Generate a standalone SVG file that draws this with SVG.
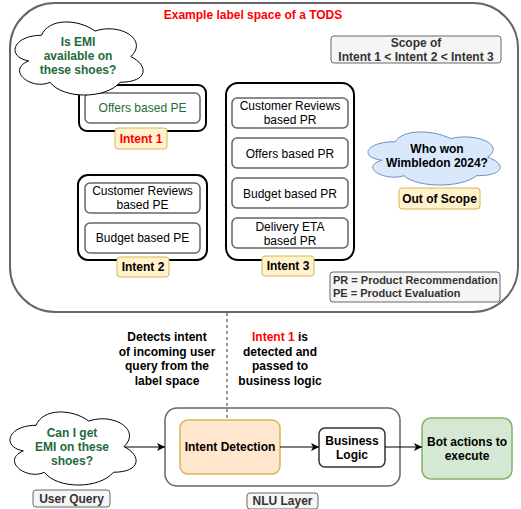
<svg xmlns="http://www.w3.org/2000/svg" width="521" height="509" viewBox="0 0 521 509">
<defs>
<style>
text{font-family:"Liberation Sans",Arial,sans-serif;font-size:12px;text-anchor:middle;fill:#000}
.b{font-weight:bold}
.g{fill:#1e6b3c}
.r{fill:#ff0000}
.d{fill:#333333}
.item{fill:#ffffff;stroke:#666666;stroke-width:1.5}
.grp{fill:#ffffff;stroke:#000000;stroke-width:2}
.tag{fill:#fff2cc;stroke:#d6b656;stroke-width:1}
.gray{fill:#f5f5f5;stroke:#666666;stroke-width:1}
.cloud{stroke-width:1;vector-effect:non-scaling-stroke}
.conn{fill:none;stroke:#000000;stroke-width:1}
</style>
<marker id="arr" markerWidth="10" markerHeight="10" refX="8" refY="4" orient="auto" markerUnits="userSpaceOnUse">
<path d="M0,0 L8,4 L0,8 L2,4 Z" fill="#000000"/>
</marker>
</defs>
<rect width="521" height="509" fill="#ffffff"/>

<g id="label-space">
<rect x="10" y="3" width="508" height="309" rx="45" fill="#ffffff" stroke="#666666" stroke-width="2"/>
<text x="253" y="19" class="b r">Example label space of a TODS</text>
</g>

<g id="intent1">
<rect class="grp" x="79" y="85" width="127" height="46" rx="8"/>
<rect class="item" x="85" y="93" width="115" height="30" rx="5"/>
<text x="142.5" y="112" class="g">Offers based PE</text>
<rect class="tag" x="115" y="128" width="52" height="21" rx="3"/>
<text x="141" y="143" class="b r">Intent 1</text>
</g>

<g id="cloud-emi">
<path class="cloud" fill="#ffffff" stroke="#000000" transform="translate(5.7,14) scale(143,85.3)" d="M0.25,0.25 C0.05,0.25 0,0.5 0.16,0.55 C0,0.66 0.18,0.9 0.31,0.8 C0.4,1 0.7,1 0.8,0.8 C1,0.8 1,0.6 0.875,0.5 C1,0.3 0.8,0.1 0.625,0.2 C0.5,0.05 0.3,0.05 0.25,0.25 Z"/>
<text x="78" y="46" class="b g">Is EMI</text>
<text x="78" y="60" class="b g">available on</text>
<text x="78" y="74" class="b g">these shoes?</text>
</g>

<g id="intent2">
<rect class="grp" x="78" y="175" width="129" height="85" rx="10"/>
<rect class="item" x="85" y="183" width="115" height="30" rx="5"/>
<text x="142.5" y="195">Customer Reviews</text>
<text x="142.5" y="209">based PE</text>
<rect class="item" x="85" y="223" width="115" height="30" rx="5"/>
<text x="142.5" y="242">Budget based PE</text>
<rect class="tag" x="117" y="257" width="52" height="20" rx="3"/>
<text x="143" y="271" class="b">Intent 2</text>
</g>

<g id="intent3">
<rect class="grp" x="226" y="83" width="128" height="177" rx="12"/>
<rect class="item" x="232" y="98" width="116" height="30" rx="5"/>
<text x="290" y="110">Customer Reviews</text>
<text x="290" y="124">based PR</text>
<rect class="item" x="232" y="138" width="116" height="30" rx="5"/>
<text x="290" y="157.5">Offers based PR</text>
<rect class="item" x="232" y="178" width="116" height="30" rx="5"/>
<text x="290" y="197.5">Budget based PR</text>
<rect class="item" x="232" y="218" width="116" height="30" rx="5"/>
<text x="290" y="231">Delivery ETA</text>
<text x="290" y="244.5">based PR</text>
<rect class="tag" x="262" y="256" width="52" height="20" rx="3"/>
<text x="288" y="270" class="b">Intent 3</text>
</g>

<g id="scope">
<rect class="gray" x="331" y="36" width="170" height="27" rx="3"/>
<text x="416" y="47" class="b d">Scope of</text>
<text x="416" y="61" class="b d">Intent 1 &lt; Intent 2 &lt; Intent 3</text>
</g>

<g id="cloud-wimbledon">
<path class="cloud" fill="#dae8fc" stroke="#6c8ebf" transform="translate(358.4,126.2) scale(147.5,61.9)" d="M0.25,0.25 C0.05,0.25 0,0.5 0.16,0.55 C0,0.66 0.18,0.9 0.31,0.8 C0.4,1 0.7,1 0.8,0.8 C1,0.8 1,0.6 0.875,0.5 C1,0.3 0.8,0.1 0.625,0.2 C0.5,0.05 0.3,0.05 0.25,0.25 Z"/>
<text x="437" y="153" class="b">Who won</text>
<text x="437" y="167" class="b">Wimbledon 2024?</text>
</g>

<g id="out-of-scope">
<rect class="tag" x="399" y="188" width="81" height="21" rx="3"/>
<text x="439.5" y="203" class="b">Out of Scope</text>
</g>

<g id="legend">
<rect class="gray" x="330" y="272" width="170" height="30" rx="3"/>
<text x="333" y="284" class="b d" style="text-anchor:start;font-size:11px">PR = Product Recommendation</text>
<text x="333" y="297" class="b d" style="text-anchor:start;font-size:11px">PE = Product Evaluation</text>
</g>

<g id="note-detects">
<text x="167" y="341" class="b">Detects intent</text>
<text x="167" y="356" class="b">of incoming user</text>
<text x="167" y="370" class="b">query from the</text>
<text x="167" y="385" class="b">label space</text>
</g>

<g id="note-intent1">
<text x="280" y="341" class="b"><tspan class="r">Intent 1</tspan> is</text>
<text x="280" y="356" class="b">detected and</text>
<text x="280" y="370" class="b">passed to</text>
<text x="280" y="385" class="b">business logic</text>
</g>

<g id="user-query">
<path class="cloud" fill="#ffffff" stroke="#000000" transform="translate(0.8,404) scale(140.8,85.3)" d="M0.25,0.25 C0.05,0.25 0,0.5 0.16,0.55 C0,0.66 0.18,0.9 0.31,0.8 C0.4,1 0.7,1 0.8,0.8 C1,0.8 1,0.6 0.875,0.5 C1,0.3 0.8,0.1 0.625,0.2 C0.5,0.05 0.3,0.05 0.25,0.25 Z"/>
<text x="72" y="437" class="b g">Can I get</text>
<text x="72" y="451" class="b g">EMI on these</text>
<text x="72" y="465" class="b g">shoes?</text>
<rect class="gray" x="33" y="490" width="77" height="17" rx="3"/>
<text x="71.5" y="503" class="b d">User Query</text>
</g>

<g id="nlu-layer">
<rect x="165" y="408" width="235" height="78" rx="12" fill="#ffffff" stroke="#666666" stroke-width="1.5"/>
<rect class="gray" x="247" y="493" width="71" height="16" rx="3"/>
<text x="282.5" y="505" class="b d">NLU Layer</text>
</g>

<g id="intent-detection">
<rect x="180" y="420" width="100" height="54" rx="8" fill="#ffe6cc" stroke="#d6b656" stroke-width="1.5"/>
<text x="230" y="451" class="b">Intent Detection</text>
</g>

<g id="business-logic">
<rect x="319" y="428" width="66" height="39" rx="6" fill="#ffffff" stroke="#333333" stroke-width="1.5"/>
<text x="352" y="445" class="b">Business</text>
<text x="352" y="459" class="b">Logic</text>
</g>

<g id="bot-actions">
<rect x="422" y="418" width="90" height="61" rx="9" fill="#d5e8d4" stroke="#82b366" stroke-width="1.5"/>
<text x="467" y="446" class="b">Bot actions to</text>
<text x="467" y="460" class="b">execute</text>
</g>

<g id="connectors">
<line x1="227" y1="313" x2="227" y2="420" stroke="#333333" stroke-width="1" stroke-dasharray="3 3"/>
<line class="conn" x1="125" y1="447" x2="165" y2="447" marker-end="url(#arr)"/>
<line class="conn" x1="280" y1="447" x2="319" y2="447" marker-end="url(#arr)"/>
<line class="conn" x1="385" y1="447" x2="422" y2="447" marker-end="url(#arr)"/>
</g>
</svg>
